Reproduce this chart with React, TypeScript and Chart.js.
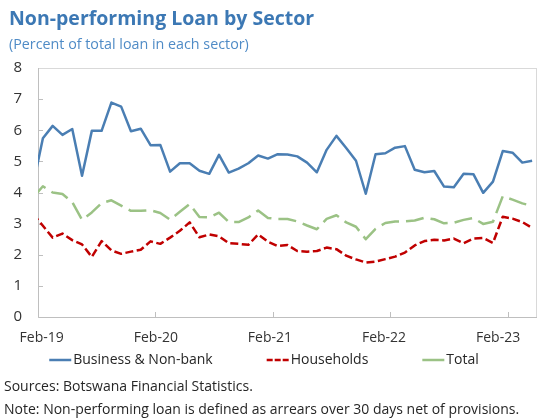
import React, { useEffect, useRef } from 'react';
import { Chart, registerables } from 'chart.js';

Chart.register(...registerables);

// Monthly observations (Jan-19 is only partly visible: the axis starts at Feb-19)
const MONTHS = [
  'Jan-19', 'Feb-19', 'Mar-19', 'Apr-19', 'May-19', 'Jun-19', 'Jul-19', 'Aug-19', 'Sep-19', 'Oct-19', 'Nov-19', 'Dec-19',
  'Jan-20', 'Feb-20', 'Mar-20', 'Apr-20', 'May-20', 'Jun-20', 'Jul-20', 'Aug-20', 'Sep-20', 'Oct-20', 'Nov-20', 'Dec-20',
  'Jan-21', 'Feb-21', 'Mar-21', 'Apr-21', 'May-21', 'Jun-21', 'Jul-21', 'Aug-21', 'Sep-21', 'Oct-21', 'Nov-21', 'Dec-21',
  'Jan-22', 'Feb-22', 'Mar-22', 'Apr-22', 'May-22', 'Jun-22', 'Jul-22', 'Aug-22', 'Sep-22', 'Oct-22', 'Nov-22', 'Dec-22',
  'Jan-23', 'Feb-23', 'Mar-23', 'Apr-23',
];

const BUSINESS = [
  4.24, 5.74, 6.14, 5.85, 6.04, 4.54, 5.98, 5.98, 6.89, 6.76, 5.97, 6.05,
  5.52, 5.53, 4.67, 4.94, 4.94, 4.70, 4.60, 5.21, 4.64, 4.77, 4.94, 5.19,
  5.09, 5.23, 5.22, 5.16, 4.96, 4.65, 5.37, 5.82, 5.43, 5.02, 3.96, 5.23,
  5.26, 5.44, 5.49, 4.73, 4.65, 4.69, 4.19, 4.17, 4.60, 4.59, 3.99, 4.35,
  5.33, 5.28, 4.96, 5.02,
];

const HOUSEHOLDS = [
  3.31, 2.93, 2.55, 2.68, 2.47, 2.33, 1.93, 2.44, 2.14, 2.03, 2.10, 2.16,
  2.43, 2.35, 2.55, 2.77, 3.04, 2.56, 2.65, 2.59, 2.37, 2.35, 2.32, 2.65,
  2.42, 2.28, 2.31, 2.12, 2.10, 2.12, 2.23, 2.18, 1.97, 1.85, 1.75, 1.78,
  1.86, 1.94, 2.07, 2.30, 2.44, 2.48, 2.46, 2.52, 2.37, 2.52, 2.54, 2.38,
  3.22, 3.16, 3.05, 2.86,
];

const TOTAL = [
  3.84, 4.20, 4.00, 3.95, 3.69, 3.12, 3.36, 3.66, 3.75, 3.58, 3.41, 3.41,
  3.43, 3.34, 3.13, 3.38, 3.63, 3.21, 3.20, 3.35, 3.05, 3.05, 3.20, 3.42,
  3.18, 3.15, 3.15, 3.07, 2.94, 2.82, 3.15, 3.27, 3.04, 2.90, 2.50, 2.83,
  3.02, 3.07, 3.07, 3.10, 3.19, 3.14, 3.01, 3.03, 3.12, 3.18, 2.99, 3.06,
  3.88, 3.77, 3.65, 3.57,
];

const TICK_LABELS = ['Feb-19', 'Feb-20', 'Feb-21', 'Feb-22', 'Feb-23'];
const Y_MIN = 0;
const Y_MAX = 8;
const Y_STEP = 1;

const SERIES_NAMES = ['Business & Non-bank', 'Households', 'Total'];

const FONT = '"Open Sans", "Noto Sans", sans-serif';

// month-start value (0 = start of Feb-19) for a label in MONTHS
const startOf = (label: string) => MONTHS.indexOf(label) - 1;
// points sit in the middle of their month
const toPoints = (vals: number[]) => vals.map((v, i) => ({ x: i - 0.5, y: v }));

const TICK_VALUES = TICK_LABELS.map(startOf);

const framePlugin = {
  id: 'frame',
  beforeDatasetsDraw(chart: any) {
    const { ctx, chartArea } = chart;
    const { left, right, top, bottom } = chartArea;
    const x = chart.scales.x;
    const y = chart.scales.y;
    ctx.save();
    ctx.lineWidth = 1;
    ctx.strokeStyle = '#d9d9d9';
    ctx.strokeRect(left + 0.5, top + 0.5, right - left - 1, bottom - top);
    ctx.strokeStyle = '#bfbfbf';
    ctx.beginPath();
    ctx.moveTo(left + 0.5, top);
    ctx.lineTo(left + 0.5, bottom + 0.5);
    ctx.lineTo(right, bottom + 0.5);
    // inward tick marks
    for (let v = Y_MIN + Y_STEP; v < Y_MAX; v += Y_STEP) {
      const py = Math.round(y.getPixelForValue(v)) + 0.5;
      ctx.moveTo(left, py);
      ctx.lineTo(left + 5, py);
    }
    TICK_VALUES.forEach((v) => {
      const px = Math.round(x.getPixelForValue(v)) + 0.5;
      ctx.moveTo(px, bottom);
      ctx.lineTo(px, bottom - 5);
    });
    ctx.stroke();
    ctx.restore();
  },
};

const LEGEND_CX = 264;
const LEGEND_Y = 360;

const legendPlugin = {
  id: 'lineLegend',
  afterDraw(chart: any) {
    const { ctx } = chart;
    const sample = 22;
    const gap = 2;
    const spacing = 54;
    ctx.save();
    ctx.font = `14px ${FONT}`;
    const items = chart.data.datasets.map((ds: any) => ({ ds, w: ctx.measureText(ds.label).width }));
    const total =
      items.reduce((s: number, it: any) => s + sample + gap + it.w, 0) + spacing * (items.length - 1);
    let x = LEGEND_CX - total / 2;
    items.forEach(({ ds, w }: any) => {
      ctx.beginPath();
      ctx.setLineDash(ds.legendDash || []);
      ctx.lineWidth = ds.borderWidth;
      ctx.strokeStyle = ds.borderColor;
      ctx.moveTo(x, LEGEND_Y);
      ctx.lineTo(x + sample, LEGEND_Y);
      ctx.stroke();
      ctx.setLineDash([]);
      ctx.fillStyle = '#262626';
      ctx.textBaseline = 'middle';
      ctx.textAlign = 'left';
      ctx.fillText(ds.label, x + sample + gap, LEGEND_Y);
      x += sample + gap + w + spacing;
    });
    ctx.restore();
  },
};

export default function App() {
  const canvasRef = useRef<HTMLCanvasElement | null>(null);

  useEffect(() => {
    if (!canvasRef.current) return;
    const chart = new Chart(canvasRef.current, {
      type: 'line',
      data: {
        datasets: [
          {
            label: SERIES_NAMES[0],
            data: toPoints(BUSINESS),
            borderColor: '#4a7eb3',
            borderWidth: 2.5,
            pointRadius: 0,
            tension: 0,
            clip: 0,
            borderJoinStyle: 'round',
          },
          {
            label: SERIES_NAMES[1],
            data: toPoints(HOUSEHOLDS),
            borderColor: '#c00000',
            borderWidth: 2.5,
            borderDash: [8, 3.5],
            legendDash: [6, 2],
            pointRadius: 0,
            tension: 0,
            clip: 0,
            borderJoinStyle: 'round',
          },
          {
            label: SERIES_NAMES[2],
            data: toPoints(TOTAL),
            borderColor: '#9bc285',
            borderWidth: 2.5,
            borderDash: [18, 7],
            pointRadius: 0,
            tension: 0,
            clip: 0,
            borderJoinStyle: 'round',
          },
        ] as any,
      },
      options: {
        animation: false,
        responsive: false,
        devicePixelRatio: 1,
        layout: { padding: { top: 68, right: 1, bottom: 72, left: 0 } },
        plugins: {
          legend: { display: false },
          tooltip: { enabled: false },
        },
        scales: {
          x: {
            type: 'linear',
            display: false,
            min: startOf('Feb-19'),
            max: MONTHS.length - 1,
          },
          xl: {
            type: 'linear',
            position: 'bottom',
            min: -0.39,
            max: 52.09,
            grid: { display: false, drawTicks: false },
            border: { display: false },
            afterBuildTicks: (s: any) => {
              s.ticks = TICK_VALUES.map((v) => ({ value: v }));
            },
            afterFit: (s: any) => {
              s.height = 30;
            },
            ticks: {
              autoSkip: false,
              maxRotation: 0,
              padding: 13,
              color: '#333333',
              font: { family: FONT, size: 14 },
              callback: (v: any) => TICK_LABELS[TICK_VALUES.indexOf(Number(v))] ?? '',
            },
          },
          y: {
            type: 'linear',
            min: Y_MIN,
            max: Y_MAX,
            grid: { display: false, drawTicks: false },
            border: { display: false },
            afterFit: (s: any) => {
              s.width = 38;
            },
            ticks: {
              stepSize: Y_STEP,
              padding: 16,
              color: '#333333',
              font: { family: FONT, size: 15 },
            },
          },
        } as any,
      },
      plugins: [framePlugin, legendPlugin],
    });
    return () => chart.destroy();
  }, []);

  return (
    <div style={{ position: 'absolute', left: 0, top: 0, width: 538, height: 419, background: '#fff', fontFamily: FONT }}>
      <canvas ref={canvasRef} width={538} height={419} style={{ display: 'block', width: 538, height: 419 }} />
      <div style={{ position: 'absolute', left: 9, top: 4, fontSize: 19.5, fontWeight: 700, color: '#3c78b4', whiteSpace: 'nowrap' }}>
        Non-performing Loan by Sector
      </div>
      <div style={{ position: 'absolute', left: 9, top: 34, fontSize: 14.3, color: '#4f8bc6', whiteSpace: 'nowrap' }}>
        (Percent of total loan in each sector)
      </div>
      <div style={{ position: 'absolute', left: 4, top: 376, fontSize: 14, color: '#262626', whiteSpace: 'nowrap' }}>
        Sources: Botswana Financial Statistics.
      </div>
      <div style={{ position: 'absolute', left: 4, top: 399, fontSize: 14, color: '#262626', whiteSpace: 'nowrap' }}>
        Note: Non-performing loan is defined as arrears over 30 days net of provisions.
      </div>
    </div>
  );
}
